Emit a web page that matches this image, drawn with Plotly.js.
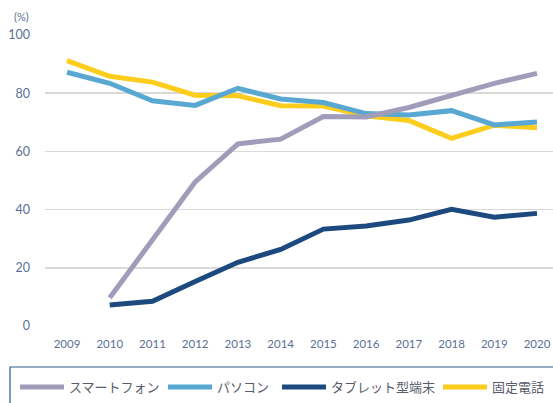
<!DOCTYPE html>
<html><head><meta charset="utf-8">
<script src="https://cdn.plot.ly/plotly-3.0.1.min.js"></script>
<style>body{margin:0;padding:0;background:#fff}#chart{width:553px;height:403px}</style>
</head><body><div id="chart"></div>
<script>
const years = [2009,2010,2011,2012,2013,2014,2015,2016,2017,2018,2019,2020];
const smartphone = [null,9.7,29.3,49.5,62.6,64.2,72.0,71.8,75.1,79.2,83.4,86.8];
const pc = [87.2,83.4,77.4,75.8,81.7,78.0,76.8,73.0,72.5,74.0,69.1,70.1];
const tablet = [null,7.2,8.5,15.3,21.9,26.3,33.3,34.4,36.4,40.1,37.4,38.7];
const landline = [91.2,85.8,83.8,79.3,79.1,75.7,75.6,72.2,70.6,64.5,69.0,68.1];
const names = ['スマートフォン','パソコン','タブレット型端末','固定電話'];
const colors = ['#a09dbb','#58a8d2','#1d4a7e','#fccd1c'];
const series = [smartphone, pc, tablet, landline];
const legendIds = ['legend','legend2','legend3','legend4'];
const order = [3,1,0,2];
const traces = order.map(i => ({
  x: years, y: series[i], name: names[i], type: 'scatter', mode: 'lines',
  line: {color: colors[i], width: 5}, legend: legendIds[i], connectgaps: false
}));
const W=553, H=403, L=45, R=0, T=35, B=77;
const pw = W-L-R, ph = H-T-B;
const swatchX = [25, 173, 287, 448];
const legendFont = {family: '"Noto Sans CJK JP", sans-serif', size: 13, color: '#585d6b'};
const layout = {
  width: W, height: H,
  margin: {l: L, r: R, t: T, b: B, pad: 0},
  paper_bgcolor: '#fff', plot_bgcolor: '#fff',
  font: {family: 'Lato, "Noto Sans CJK JP", sans-serif', color: '#5b7096', size: 12},
  xaxis: {range: [2008.485, 2020.374], tickvals: years, ticktext: years.map(String),
    showgrid: false, zeroline: false, showline: false, ticks: '',
    tickfont: {size: 11.5, color: '#5b7096'}, ticklabelstandoff: 9},
  yaxis: {range: [0, 100], tickvals: [0,20,40,60,80,100], showgrid: true,
    gridcolor: '#d9d9d9', gridwidth: 1.5, zeroline: false, showline: false, ticks: '',
    tickfont: {size: 12.5, color: '#5b7096'}, ticklabelstandoff: 14},
  showlegend: true,
  shapes: [{type: 'rect', xref: 'paper', yref: 'paper',
    x0: (10-L)/pw, x1: (W+5-L)/pw, y0: (T+ph-367)/ph, y1: (T+ph-410)/ph,
    line: {color: '#2c5a8c', width: 1.2}, fillcolor: 'rgba(0,0,0,0)'}],
  annotations: [{text: '(%)', xref: 'paper', yref: 'paper', x: (21-L)/pw, y: (T+ph-16)/ph,
    xanchor: 'center', yanchor: 'middle', showarrow: false,
    font: {size: 11, color: '#5b7096'}}]
};
legendIds.forEach((id, k) => {
  layout[id] = {orientation: 'h', x: (swatchX[k]-10-L)/pw, xanchor: 'left',
    y: (T+ph-372)/ph, yanchor: 'top', font: legendFont,
    bgcolor: 'rgba(0,0,0,0)', borderwidth: 0, itemwidth: 44};
});
Plotly.newPlot('chart', traces, layout, {displayModeBar: false, staticPlot: true});
</script></body></html>
